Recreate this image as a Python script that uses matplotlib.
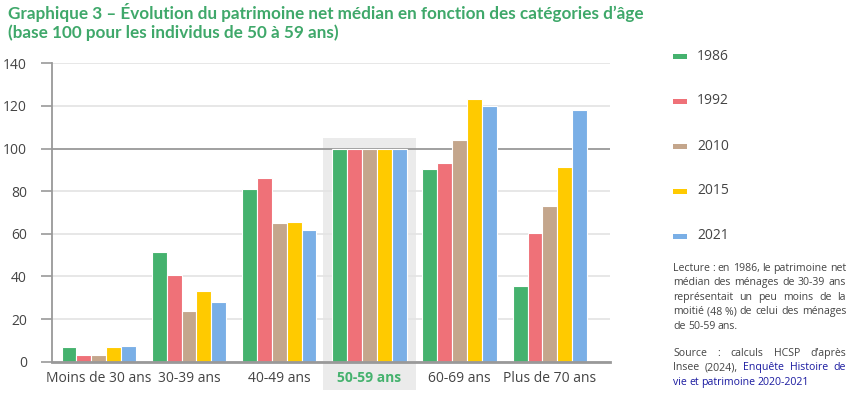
import matplotlib
matplotlib.use("Agg")
import matplotlib.pyplot as plt
import numpy as np
from matplotlib.patches import Rectangle

categories = ["Moins de 30 ans", "30-39 ans", "40-49 ans", "50-59 ans", "60-69 ans", "Plus de 70 ans"]
years = ["1986", "1992", "2010", "2015", "2021"]
v1986 = [7.0, 51.6, 81.2, 100, 90.6, 35.7]
v1992 = [3.3, 40.7, 86.3, 100, 93.4, 60.5]
v2010 = [3.3, 23.9, 65.2, 100, 104.2, 73.2]
v2015 = [7.0, 33.3, 65.7, 100, 123.4, 91.5]
v2021 = [7.5, 28.2, 61.9, 100, 120.1, 118.3]
series = [v1986, v1992, v2010, v2015, v2021]
colors = ["#45b26e", "#ef7178", "#c4a68c", "#ffca00", "#7aafe6"]
yticks = [0, 20, 40, 60, 80, 100, 120, 140]

plt.rcParams['font.family'] = ['Open Sans', 'DejaVu Sans']
W, H = 856, 397
fig = plt.figure(figsize=(W/100, H/100), dpi=100)
ax = fig.add_axes([52/W, 1-361.7/H, (610-52)/W, (361.7-63.3)/H])

x = np.arange(len(categories))
bw = 0.165
for i, (vals, c) in enumerate(zip(series, colors)):
    ax.bar(x + (i-2)*bw, vals, width=bw, color=c, edgecolor="white", linewidth=0.8, zorder=3, label=years[i])

ax.set_xlim(-0.519, 5.667)
ax.set_ylim(0, 140)
ax.set_yticks(yticks)
ax.set_yticklabels([str(t) for t in yticks], fontsize=10, color="#444444")
for t in yticks:
    ax.axhline(t, color="#999999" if t == 100 else "#e3e3e3", lw=1.3 if t == 100 else 1.2, zorder=1 if t != 100 else 2)
ax.set_xticks(x)
ax.set_xticklabels(categories, fontsize=10, color="#444444")
lab = ax.get_xticklabels()[3]
lab.set_color("#45b26e"); lab.set_fontweight("bold")
ax.tick_params(axis='x', length=0, pad=7)
ax.tick_params(axis='y', length=8, width=1.2, color="#999999", pad=10)
for s in ["top", "right"]:
    ax.spines[s].set_visible(False)
ax.spines["left"].set_color("#999999"); ax.spines["left"].set_linewidth(1.3)
ax.spines["bottom"].set_color("#999999"); ax.spines["bottom"].set_linewidth(2)
ax.spines["bottom"].set_zorder(4)

# highlight behind 50-59
hl = Rectangle((323/W, 1-390/H), (416-323)/W, (390-138)/H, transform=fig.transFigure,
               facecolor="#ebebeb", edgecolor="none", zorder=0.5, clip_on=False)
ax.add_patch(hl)

fig.text(8/W, 1-13/H, "Graphique 3 – Évolution du patrimoine net médian en fonction des catégories d’âge",
         fontsize=12.3, fontweight="bold", color="#3fa86a", va="center", family=["Lato", "DejaVu Sans"])
fig.text(8/W, 1-33/H, "(base 100 pour les individus de 50 à 59 ans)",
         fontsize=12.3, fontweight="bold", color="#3fa86a", va="center", family=["Lato", "DejaVu Sans"])

# legend
ly = [56, 101, 146, 191, 236]
for yy, c, yr in zip(ly, colors, years):
    fig.patches.append(Rectangle((673/W, 1-(yy+2.5)/H), 14/W, 5/H, transform=fig.transFigure, facecolor=c, edgecolor="none"))
    fig.text(697/W, 1-yy/H, yr, fontsize=10, color="#444444", va="center")

# justified text
fig.canvas.draw()
renderer = fig.canvas.get_renderer()
def justify(lines, y0, dy, x0, x1, colorfn):
    for li, line in enumerate(lines):
        words = line.split(" ")
        yy = y0 + li*dy
        texts = []
        for w in words:
            t = fig.text(0, 1-yy/H, w, fontsize=7.6, color=colorfn(li, w), va="baseline")
            texts.append(t)
        widths = [t.get_window_extent(renderer).width for t in texts]
        total = sum(widths)
        is_last = (li == len(lines)-1)
        if len(words) > 1 and not is_last:
            gap = (x1 - x0 - total) / (len(words)-1)
        else:
            gap = 2.5
        xx = x0
        for t, wdt in zip(texts, widths):
            t.set_x(xx/W)
            xx += wdt + gap

lect = ["Lecture : en 1986, le patrimoine net",
        "médian des ménages de 30-39 ans",
        "représentait un peu moins de la",
        "moitié (48\u00a0%) de celui des ménages",
        "de 50-59 ans."]
justify(lect, 271, 14.4, 673, 846, lambda li, w: "#444444")
src = ["Source : calculs HCSP d’après",
       "Insee (2024), Enquête Histoire de",
       "vie et patrimoine 2020-2021"]
blue_words = {(1, "Enquête"), (1, "Histoire"), (1, "de"), (2, "vie"), (2, "et"), (2, "patrimoine"), (2, "2020-2021")}
justify(src, 356, 14.4, 673, 846, lambda li, w: "#1a1aa0" if (li, w) in blue_words else "#444444")

fig.savefig("out.png", dpi=100)
